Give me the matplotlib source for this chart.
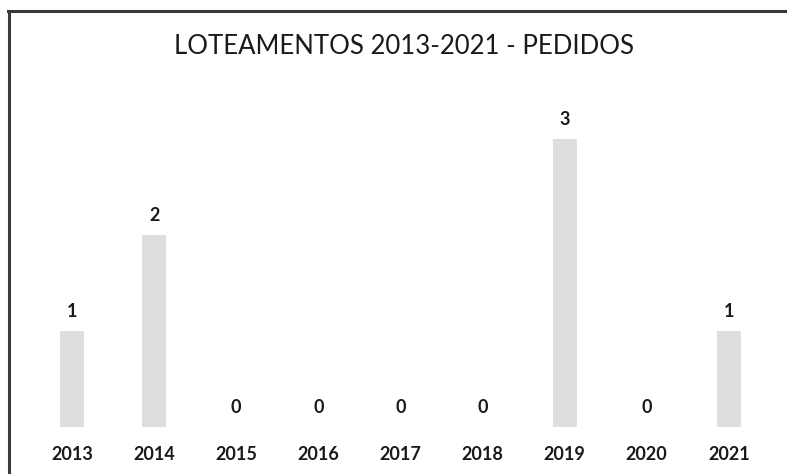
import matplotlib
matplotlib.use("Agg")
import matplotlib.pyplot as plt
from matplotlib.lines import Line2D

# ---- data ----
years = ["2013", "2014", "2015", "2016", "2017", "2018", "2019", "2020", "2021"]
pedidos = [1, 2, 0, 0, 0, 0, 3, 0, 1]
title = "LOTEAMENTOS 2013-2021 - PEDIDOS"

FONT = ["Lato", "DejaVu Sans"]
BAR = "#DCDFDE"
TXT = "#1A1A1A"

W, H = 787, 474
fig = plt.figure(figsize=(W / 100, H / 100), dpi=100)

# axes: baseline at y=427px, full width
base_px = 427
ax = fig.add_axes([0, (H - base_px) / H, 1, base_px / H])
x = list(range(len(years)))
step = 82.1
ax.set_xlim(-72 / step, (W - 72) / step)
ax.set_ylim(0, base_px / 96)

bars = ax.bar(x, pedidos, width=0.29, color=BAR, edgecolor="none")
for xi, v in zip(x, pedidos):
    ax.annotate(str(v), (xi, v), xytext=(0, 8), textcoords="offset points",
                ha="center", va="bottom", fontsize=13, fontweight="bold",
                family=FONT, color=TXT)

ax.set_xticks(x)
ax.set_xticklabels(years, fontsize=13, fontweight="bold", family=FONT, color=TXT)
ax.tick_params(axis="x", length=0, pad=14)
ax.set_yticks([])
for s in ax.spines.values():
    s.set_visible(False)

fig.text(0.513, 1 - 46 / H, title, ha="center", va="center", fontsize=18.5,
         family=FONT, color=TXT)

# frame lines (top and left)
fig.add_artist(Line2D([8 / W, 1], [1 - 11 / H, 1 - 11 / H], transform=fig.transFigure,
                      color="#3a3a3a", linewidth=2.2))
fig.add_artist(Line2D([9 / W, 9 / W], [0, 1 - 11 / H], transform=fig.transFigure,
                      color="#3a3a3a", linewidth=2.2))

fig.savefig("out.png", dpi=100)
